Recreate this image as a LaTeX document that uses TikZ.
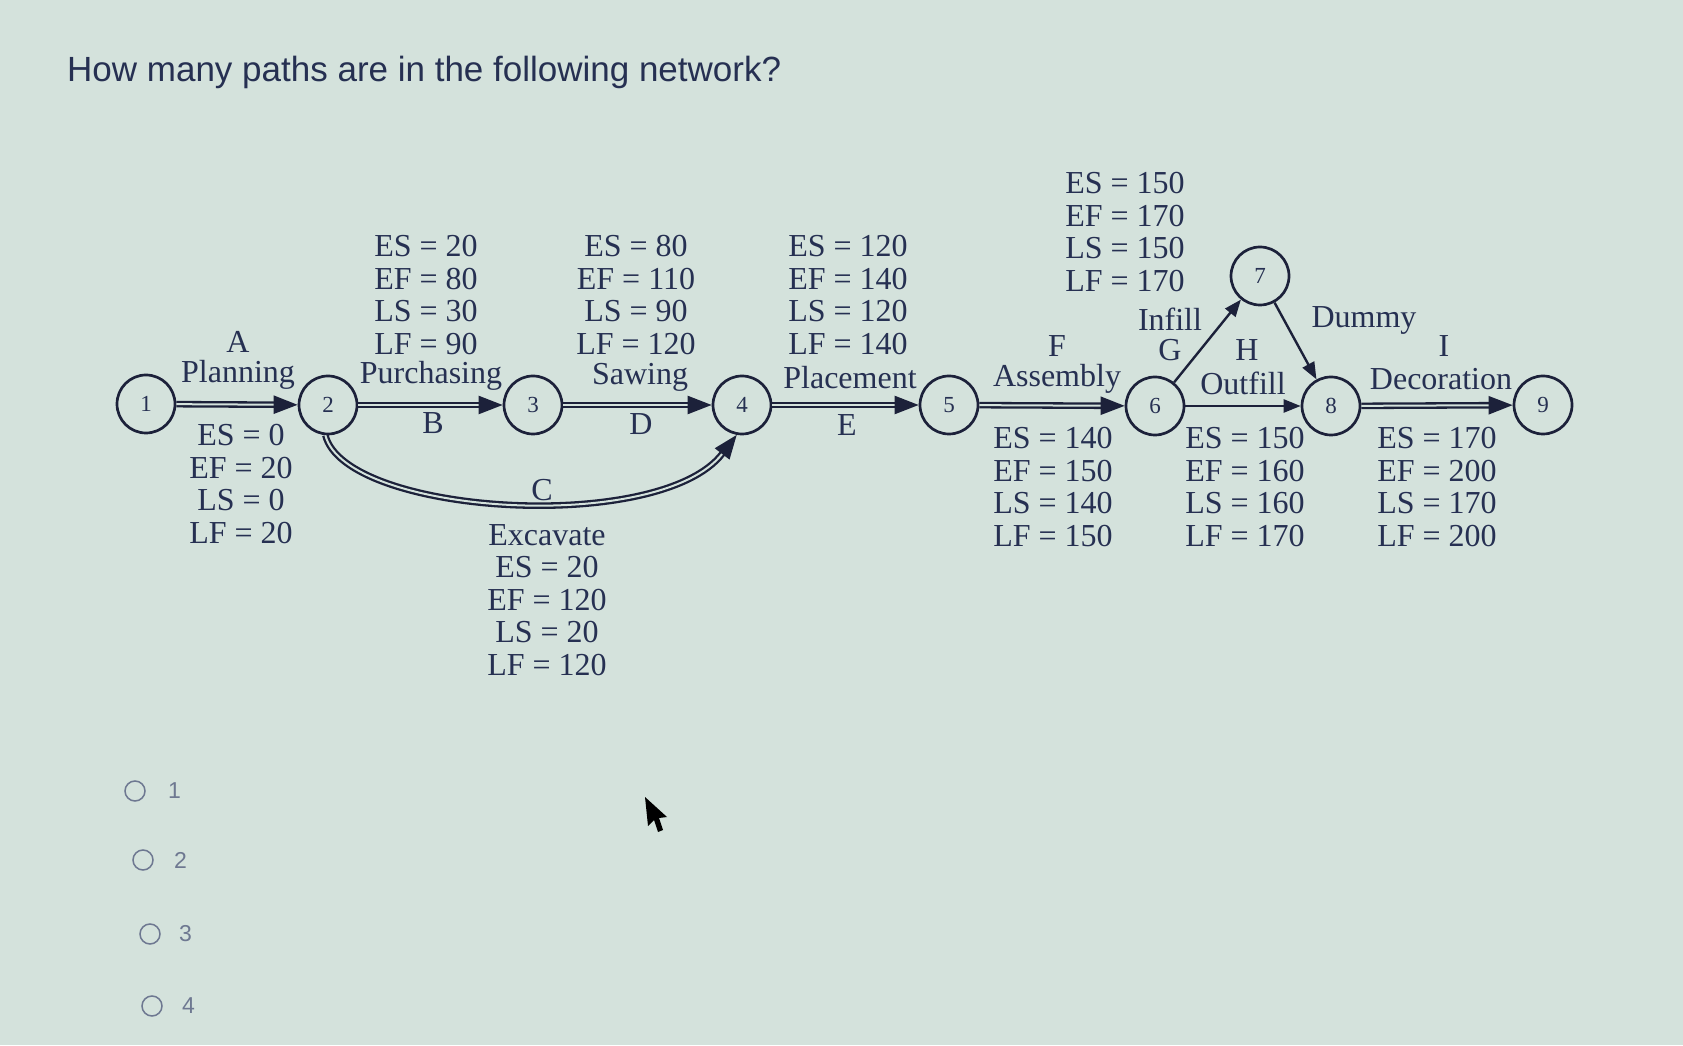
\documentclass[tikz,border=0pt]{standalone}
\usepackage{fontspec}
\setmainfont{Liberation Serif}
\newfontfamily\sansf{Liberation Sans}
\usetikzlibrary{arrows.meta}
\definecolor{bg}{RGB}{212,226,220}
\definecolor{ink}{RGB}{28,33,58}
\definecolor{txt}{RGB}{38,48,82}
\definecolor{opt}{RGB}{110,120,145}
\begin{document}
\begin{tikzpicture}[x=1pt,y=1pt,
  ev/.style={circle, draw=ink, line width=2.7pt, minimum size=58pt, inner sep=0pt,
    font=\fontsize{23}{23}\selectfont, text=txt},
  lab/.style={font=\fontsize{32}{32}\selectfont, text=txt, inner sep=0pt},
  info/.style={align=center, font=\fontsize{32}{32.5}\selectfont, text=txt, inner sep=0pt},
  crit/.style={draw=ink, line width=2.3pt, double=bg, double distance=2pt,
    -{Triangle[length=24pt,width=18pt]}},
  norm/.style={draw=ink, line width=2.4pt, -{Triangle[length=17pt,width=13pt]}},
  radio/.style={circle, draw=opt, line width=1.5pt, minimum size=20pt, inner sep=0pt},
  optl/.style={font=\sansf\fontsize{23}{23}\selectfont, text=opt, inner sep=0pt, anchor=west}
  ]
\fill[bg] (0,0) rectangle (1683,1045);
\useasboundingbox (0,0) rectangle (1683,1045);

\node[anchor=base west, font=\sansf\fontsize{35}{35}\selectfont, text=txt, inner sep=0pt]
  (title) at (67,963) {How many paths are in the following network?};

% events
\node[ev] (n1) at (146,641) {1};
\node[ev] (n2) at (328,640) {2};
\node[ev] (n3) at (533,640) {3};
\node[ev] (n4) at (742,640) {4};
\node[ev] (n5) at (949,640) {5};
\node[ev] (n6) at (1155,639) {6};
\node[ev] (n7) at (1260,769) {7};
\node[ev] (n8) at (1331,639) {8};
\node[ev] (n9) at (1543,640) {9};

% activities
\draw[crit] (n1) -- (n2);
\draw[crit] (n2) -- (n3);
\draw[crit] (n3) -- (n4);
\draw[crit] (n4) -- (n5);
\draw[crit] (n5) -- (n6);
\draw[crit] (n8) -- (n9);
\draw[crit] (n2.-95) .. controls (345,530) and (660,510) .. (n4.-100);
\draw[norm] (n6) -- (n7);
\draw[norm] (n6) -- (n8);
\draw[norm] (n7) -- (n8);

% labels above
\node[lab] (lA) at (238,703) {A};
\node[lab] (lPl) at (238,670) {Planning};
\node[info] (iB) at (426,750) {ES = 20\\EF = 80\\LS = 30\\LF = 90};
\node[lab] (lPu) at (431,669) {Purchasing};
\node[lab] (lB) at (433,622) {B};
\node[info] (iD) at (636,750) {ES = 80\\EF = 110\\LS = 90\\LF = 120};
\node[lab] (lSa) at (640,668) {Sawing};
\node[lab] (lD) at (641,621) {D};
\node[info] (iE) at (848,750) {ES = 120\\EF = 140\\LS = 120\\LF = 140};
\node[lab] (lPc) at (850,667) {Placement};
\node[lab] (lE) at (847,620) {E};
\node[lab] (lF) at (1057,699) {F};
\node[lab] (lAs) at (1057,666) {Assembly};
\node[info] (iG) at (1125,813) {ES = 150\\EF = 170\\LS = 150\\LF = 170};
\node[lab] (lIn) at (1170,726) {Infill};
\node[lab] (lG) at (1170,695) {G};
\node[lab] (lH) at (1247,695) {H};
\node[lab] (lOu) at (1243,662) {Outfill};
\node[lab] (lDu) at (1364,725) {Dummy};
\node[lab] (lI) at (1444,699) {I};
\node[lab] (lDe) at (1441,666) {Decoration};

% labels below
\node[info] (iA) at (241,561) {ES = 0\\EF = 20\\LS = 0\\LF = 20};
\node[lab] (lC) at (542,555) {C};
\node[info] (iC) at (547,445) {Excavate\\ES = 20\\EF = 120\\LS = 20\\LF = 120};
\node[info] (iF) at (1053,558) {ES = 140\\EF = 150\\LS = 140\\LF = 150};
\node[info] (iH) at (1245,558) {ES = 150\\EF = 160\\LS = 160\\LF = 170};
\node[info] (iI) at (1437,558) {ES = 170\\EF = 200\\LS = 170\\LF = 200};

% answer options
\node[radio] (o1) at (135,254) {};
\node[optl] (t1) at (168,254) {1};
\node[radio] (o2) at (143,185) {};
\node[optl] (t2) at (174,185) {2};
\node[radio] (o3) at (150,111) {};
\node[optl] (t3) at (179,111) {3};
\node[radio] (o4) at (152,39) {};
\node[optl] (t4) at (182,39) {4};

% mouse cursor
\fill[black] (645,248) -- (648,219) -- (654,225) -- (658,213) -- (663,215) -- (659,227) -- (667,228) -- cycle;
\end{tikzpicture}
\end{document}
